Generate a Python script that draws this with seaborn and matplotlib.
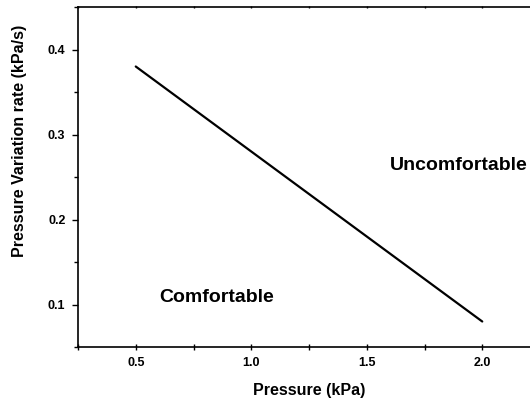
import seaborn as sns
import matplotlib.pyplot as plt
from matplotlib.ticker import MultipleLocator

pressure = [0.5, 2.0]
rate = [0.38, 0.08]

sns.set_style("ticks", {'text.color': 'black', 'axes.labelcolor': 'black',
                        'xtick.color': 'black', 'ytick.color': 'black',
                        'axes.edgecolor': 'black'})
plt.rcParams['font.family'] = ['Liberation Sans', 'DejaVu Sans']
plt.rcParams['font.weight'] = 'bold'

fig = plt.figure(figsize=(5.3, 4.03), dpi=100)
# axes runs past the right edge, like the cropped original
ax = fig.add_axes([78 / 530, 1 - 347 / 403, 462 / 530, 340 / 403])

sns.lineplot(x=pressure, y=rate, color='black', linewidth=1.6, ax=ax)

ax.set_xlim(0.25, 2.25)
ax.set_ylim(0.05, 0.45)
ax.xaxis.set_minor_locator(MultipleLocator(0.25))
ax.yaxis.set_minor_locator(MultipleLocator(0.05))
ax.set_xticks([0.5, 1.0, 1.5, 2.0])
ax.set_xticklabels(['0.5', '1.0', '1.5', '2.0'], fontsize=9, fontweight='bold')
ax.set_yticks([0.1, 0.2, 0.3, 0.4])
ax.set_yticklabels(['0.1', '0.2', '0.3', '0.4'], fontsize=9, fontweight='bold')

ax.tick_params(which='both', direction='out', width=1, right=False, pad=5)
ax.tick_params(which='major', length=4)
ax.tick_params(which='minor', length=3)
ax.tick_params(axis='x', which='both', top=True, labeltop=False, direction='inout')
for s in ['left', 'bottom', 'top']:
    ax.spines[s].set_linewidth(1.2)
ax.spines['right'].set_visible(False)

# top ticks are only tiny marks in the original
for t in ax.xaxis.get_major_ticks() + ax.xaxis.get_minor_ticks():
    t.tick2line.set_markersize(1.5)
    t.tick1line.set_markersize(4)

ax.set_xlabel('Pressure (kPa)', fontsize=11.5, fontweight='bold', labelpad=10)
fig.text(20 / 530, 1 - 141 / 403, 'Pressure Variation rate (kPa/s)', fontsize=11.5,
         fontweight='bold', rotation=90, ha='center', va='center')

ax.text(0.85, 0.108, 'Comfortable', fontsize=14, fontweight='bold', ha='center', va='center')
ax.text(1.9, 0.2635, 'Uncomfortable', fontsize=14, fontweight='bold', ha='center', va='center')

fig.savefig('out.png', dpi=100)
